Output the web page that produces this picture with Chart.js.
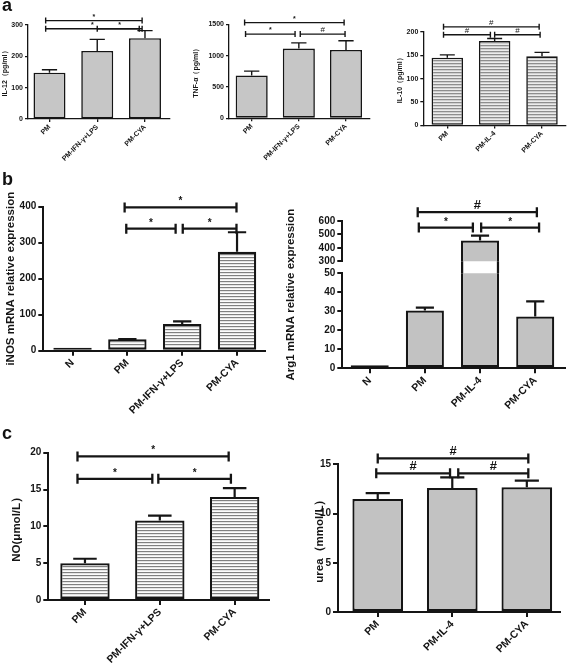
<!DOCTYPE html>
<html>
<head>
<meta charset="utf-8">
<script src="https://cdn.jsdelivr.net/npm/chart.js@4.4.0/dist/chart.umd.min.js"></script>
<style>
  body { margin: 0; background: #fff; width: 567px; height: 670px; position: relative; overflow: hidden; }
  .tag { position: absolute; z-index: 5; font: bold 18px "Liberation Sans", Arial, sans-serif; line-height: 18px; color: #111; }
  canvas { position: absolute; }
</style>
</head>
<body>
<div class="tag" style="left:2px;top:-4px">a</div>
<div class="tag" style="left:2px;top:170px">b</div>
<div class="tag" style="left:2px;top:424px">c</div>
<script>
// ---- a: cytokines in supernatant (pg/ml) ----
const catsM1 = ['PM', 'PM-IFN-γ+LPS', 'PM-CYA'];
const catsM2 = ['PM', 'PM-IL-4', 'PM-CYA'];

const il12Mean = [148, 217, 258];
const il12Sd = [9, 37, 24];
const il12Ticks = [0, 100, 200, 300];
const il12Sig = [[-0.08, 1.94, 314, '*'], [-0.08, 1.88, 288, '*'], [1.0, 1.94, 288, '*']];

const tnfMean = [683, 1113, 1091];
const tnfSd = [70, 91, 146];
const tnfTicks = [0, 500, 1000, 1500];
const tnfSig = [[-0.15, 1.96, 1527, '*'], [-0.13, 0.92, 1344, '*'], [1.03, 1.98, 1344, '#']];

const il10Mean = [145, 181, 148];
const il10Sd = [6, 5, 8.5];
const il10Ticks = [0, 50, 100, 150, 200];
const il10Sig = [[-0.08, 1.94, 211, '#'], [-0.08, 0.91, 194, '#'], [1.0, 1.96, 194, '#']];

// ---- b: mRNA relative expression ----
const catsB1 = ['N', 'PM', 'PM-IFN-γ+LPS', 'PM-CYA'];
const catsB2 = ['N', 'PM', 'PM-IL-4', 'PM-CYA'];

const inosMean = [1.5, 31.5, 74, 275];
const inosSd = [0, 1, 7.5, 54];
const inosTicks = [0, 100, 200, 300, 400];
const inosSig = [[0.95, 2.99, 398, '*'], [0.98, 1.88, 339, '*'], [2.01, 2.99, 339, '*']];

const argMean = [1, 30.4, 454, 27.2];
const argSd = [0, 1.5, 37, 8];
const argTicksLow = [0, 10, 20, 30, 40, 50];
const argTicksHigh = [300, 400, 500, 600];
const argSig = [[0.87, 3.03, 666, '#'], [0.89, 1.87, 551, '*'], [2.02, 3.07, 551, '*']];

// ---- c: NO and urea ----
const noMean = [5.0, 10.8, 14.0];
const noSd = [0.6, 0.65, 1.2];
const noTicks = [0, 5, 10, 15, 20];
const noSig = [[-0.1, 1.92, 19.5, '*'], [-0.1, 0.9, 16.45, '*'], [0.98, 1.95, 16.45, '*']];

const ureaMean = [11.47, 12.59, 12.66];
const ureaSd = [0.61, 1.08, 0.68];
const ureaTicks = [0, 5, 10, 15];
const ureaSig = [[0.0, 2.02, 15.6, '#'], [-0.02, 0.97, 14.08, '#'], [1.08, 2.02, 14.08, '#']];

const INK = '#151515';
const FAMILY = '"Liberation Sans", Arial, sans-serif';

function tile(rows) {
  const t = document.createElement('canvas');
  t.width = 4; t.height = rows.length;
  const c = t.getContext('2d');
  rows.forEach((col, i) => { c.fillStyle = col; c.fillRect(0, i, 4, 1); });
  return t;
}
const stripesFine = tile(['#8e8e8e', '#cfcfcf', '#ececec']);
const stripesWide = tile(['#808080', '#e4e4e4', '#fcfcfc']);
const grayA = '#c6c6c6';
const grayB = '#c2c2c2';

// error bars: only the upper arm, GraphPad style
const errBars = {
  id: 'errBars',
  afterDatasetsDraw(chart, args, o) {
    const ds = chart.data.datasets[0];
    if (!ds.sd) return;
    const { ctx, scales: { y } } = chart;
    ctx.save();
    ctx.strokeStyle = INK;
    ctx.lineWidth = o.lw || 1.5;
    chart.getDatasetMeta(0).data.forEach((bar, i) => {
      const m = ds.data[i].y, sd = ds.sd[i];
      if (!sd || m < y.min || m > y.max) return;
      const top = y.getPixelForValue(m + sd);
      const half = bar.width / 4.2;
      ctx.beginPath();
      ctx.moveTo(bar.x, bar.y); ctx.lineTo(bar.x, top);
      ctx.moveTo(bar.x - half, top); ctx.lineTo(bar.x + half, top);
      ctx.stroke();
    });
    ctx.restore();
  }
};

// significance brackets
const sigBars = {
  id: 'sigBars',
  afterDraw(chart, args, o) {
    if (!o.list) return;
    const { ctx, scales: { x, y } } = chart;
    ctx.save();
    ctx.strokeStyle = INK; ctx.fillStyle = INK;
    ctx.lineWidth = o.lw;
    ctx.textAlign = 'center'; ctx.textBaseline = 'alphabetic';
    o.list.forEach(([a, b, v, mark]) => {
      const x1 = x.getPixelForValue(a), x2 = x.getPixelForValue(b), py = y.getPixelForValue(v);
      ctx.beginPath();
      ctx.moveTo(x1, py - o.cap); ctx.lineTo(x1, py + o.cap);
      ctx.moveTo(x1, py); ctx.lineTo(x2, py);
      ctx.moveTo(x2, py - o.cap); ctx.lineTo(x2, py + o.cap);
      ctx.stroke();
      ctx.font = (mark === '#' ? o.hash : o.star) + ' ' + FAMILY;
      ctx.fillText(mark, (x1 + x2) / 2, py - o.gap);
    });
    ctx.restore();
  }
};

// rotated y title, free to be shifted (broken axis)
const yTitle = {
  id: 'yTitle',
  afterDraw(chart, args, o) {
    if (!o.text) return;
    const { ctx, chartArea: a } = chart;
    ctx.save();
    ctx.translate(o.x, (a.top + a.bottom) / 2 + (o.shift || 0));
    ctx.rotate(-Math.PI / 2);
    ctx.font = o.font;
    ctx.fillStyle = INK;
    ctx.textAlign = 'center'; ctx.textBaseline = 'middle';
    ctx.fillText(o.text, 0, 0);
    ctx.restore();
  }
};

// bar sides running through the axis break
const breakSides = {
  id: 'breakSides',
  afterDatasetsDraw(chart, args, o) {
    if (!o.gap) return;
    const { ctx, chartArea: a, scales: { y } } = chart;
    const ds = chart.data.datasets[0];
    ctx.save();
    ctx.strokeStyle = INK; ctx.lineWidth = o.lw;
    chart.getDatasetMeta(0).data.forEach((bar, i) => {
      if (ds.data[i].y <= y.max) return;
      const h = bar.width / 2 - o.lw / 2;
      ctx.beginPath();
      ctx.moveTo(bar.x - h, a.top); ctx.lineTo(bar.x - h, a.top - o.gap);
      ctx.moveTo(bar.x + h, a.top); ctx.lineTo(bar.x + h, a.top - o.gap);
      ctx.stroke();
    });
    ctx.restore();
  }
};

Chart.register(errBars, sigBars, yTitle, breakSides);

const themeA = { tick: 7, label: 7, title: 'bold 7px', axis: 1.3, border: 1.6, tickLen: 3, sig: 1.4, cap: 3, star: 'bold 7px', hash: '8px', gap: 2, err: 1.4, minBar: 0 };
const themeB = { tick: 10, label: 10.5, title: 'bold 11.5px', axis: 2, border: 2.2, tickLen: 5, sig: 2.3, cap: 5, star: 'bold 10px', hash: 'bold 13px', gap: 3, err: 2.2, minBar: 3 };

function panel(p) {
  const t = p.theme;
  const [bx, by, bw, bh] = p.box;
  const cv = document.createElement('canvas');
  cv.width = bw; cv.height = bh;
  cv.style.left = bx + 'px'; cv.style.top = by + 'px';
  document.body.appendChild(cv);
  const fill = p.fill;
  new Chart(cv, {
    type: 'bar',
    data: {
      datasets: [{
        data: p.cats.map((c, i) => ({ x: i, y: p.mean[i] })),
        sd: p.sd,
        backgroundColor: typeof fill === 'string' ? fill : (c) => c.chart.ctx.createPattern(fill, 'repeat'),
        borderColor: INK,
        borderWidth: t.border,
        borderSkipped: false,
        minBarLength: p.minBar !== undefined ? p.minBar : t.minBar,
        categoryPercentage: 1,
        barPercentage: p.barPct,
        clip: 0
      }]
    },
    options: {
      responsive: false,
      animation: false,
      events: [],
      layout: { padding: { top: p.pad[0], right: p.pad[1], bottom: p.pad[2], left: 0 } },
      scales: {
        x: {
          type: 'linear', display: p.showX !== false, offset: false,
          min: p.xRange[0], max: p.xRange[1], bounds: 'data',
          afterBuildTicks: (s) => { s.ticks = p.cats.map((c, i) => ({ value: i })); },
          afterFit: (s) => { s.height = p.xh; },
          ticks: {
            callback: (v) => p.cats[v], autoSkip: false, minRotation: 45, maxRotation: 45,
            color: INK, padding: 1, font: { family: FAMILY, size: t.label, weight: 'bold' }
          },
          grid: { offset: false, drawOnChartArea: false, tickLength: t.tickLen, color: INK, lineWidth: t.axis },
          border: { color: INK, width: t.axis }
        },
        y: {
          min: p.yRange[0], max: p.yRange[1],
          afterBuildTicks: (s) => { s.ticks = p.yTicks.map((v) => ({ value: v })); },
          afterFit: (s) => { s.width = p.yw; },
          ticks: {
            callback: (v) => String(v), autoSkip: false, color: INK, padding: 2,
            font: { family: FAMILY, size: t.tick, weight: 'bold' }
          },
          grid: { drawOnChartArea: false, tickLength: t.tickLen, color: INK, lineWidth: t.axis },
          border: { color: INK, width: t.axis }
        }
      },
      plugins: {
        legend: { display: false },
        tooltip: { enabled: false },
        errBars: { lw: t.err },
        sigBars: p.sig ? { list: p.sig, lw: t.sig, cap: t.cap, star: t.star, hash: t.hash, gap: t.gap } : {},
        yTitle: p.title ? { text: p.title, x: p.titleX, shift: p.titleShift || 0, font: t.title + ' ' + FAMILY } : {},
        breakSides: p.breakGap ? { gap: p.breakGap, lw: t.border } : {}
      }
    }
  });
}

// panel a
panel({ theme: themeA, box: [0, 0, 185, 175], pad: [25, 15, 0], yw: 28, xh: 56,
  xRange: [-0.45, 2.524], barPct: 0.67, cats: catsM1, mean: il12Mean, sd: il12Sd,
  yRange: [0, 300], yTicks: il12Ticks, sig: il12Sig, fill: grayA, title: 'IL-12（pg/ml）', titleX: 5 });
panel({ theme: themeA, box: [190, 0, 185, 175], pad: [24.3, 5, 0], yw: 39, xh: 56.7,
  xRange: [-0.481, 2.509], barPct: 0.68, cats: catsM1, mean: tnfMean, sd: tnfSd,
  yRange: [0, 1500], yTicks: tnfTicks, sig: tnfSig, fill: grayA, title: 'TNF-α（pg/ml）', titleX: 6.5 });
panel({ theme: themeA, box: [375, 0, 192, 175], pad: [32, 1, 0], yw: 48.3, xh: 49.5,
  xRange: [-0.507, 2.507], barPct: 0.665, cats: catsM2, mean: il10Mean, sd: il10Sd,
  yRange: [0, 200], yTicks: il10Ticks, sig: il10Sig, fill: stripesFine, title: 'IL-10（pg/ml）', titleX: 25.5 });

// panel b
panel({ theme: themeB, box: [0, 185, 283, 240], pad: [21.7, 18, 0], yw: 43.3, xh: 74.3,
  xRange: [-0.533, 3.51], barPct: 0.7, cats: catsB1, mean: inosMean, sd: inosSd,
  yRange: [0, 400], yTicks: inosTicks, sig: inosSig, fill: stripesWide,
  title: 'iNOS mRNA relative expression', titleX: 11 });
// Arg1: broken axis drawn as two overlapping charts sharing the x scale
panel({ theme: themeB, box: [283, 185, 284, 240], pad: [88.3, 2, 0], yw: 59.3, xh: 56.7,
  xRange: [-0.497, 3.54], barPct: 0.69, cats: catsB2, mean: argMean, sd: argSd,
  yRange: [0, 50], yTicks: argTicksLow, fill: grayB, breakGap: 12,
  title: 'Arg1 mRNA relative expression', titleX: 7.5, titleShift: -26.2 });
panel({ theme: themeB, box: [283, 185, 284, 240], pad: [36, 2, 163.7], yw: 59.3, xh: 0, showX: false, minBar: 0,
  xRange: [-0.497, 3.54], barPct: 0.69, cats: catsB2, mean: argMean, sd: argSd,
  yRange: [300, 600], yTicks: argTicksHigh, sig: argSig, fill: grayB });

// panel c
panel({ theme: themeB, box: [0, 440, 283, 230], pad: [12.7, 14, 0], yw: 48.3, xh: 70,
  xRange: [-0.49, 2.459], barPct: 0.66, cats: catsM1, mean: noMean, sd: noSd,
  yRange: [0, 20], yTicks: noTicks, sig: noSig, fill: stripesWide, title: 'NO(μmol/L）', titleX: 16.7 });
panel({ theme: themeB, box: [283, 440, 284, 230], pad: [24.3, 7.3, 0], yw: 55, xh: 58,
  xRange: [-0.533, 2.441], barPct: 0.68, cats: catsM2, mean: ureaMean, sd: ureaSd,
  yRange: [0, 15], yTicks: ureaTicks, sig: ureaSig, fill: grayB, title: 'urea（mmol/L）', titleX: 36.5 });
</script>
</body>
</html>
